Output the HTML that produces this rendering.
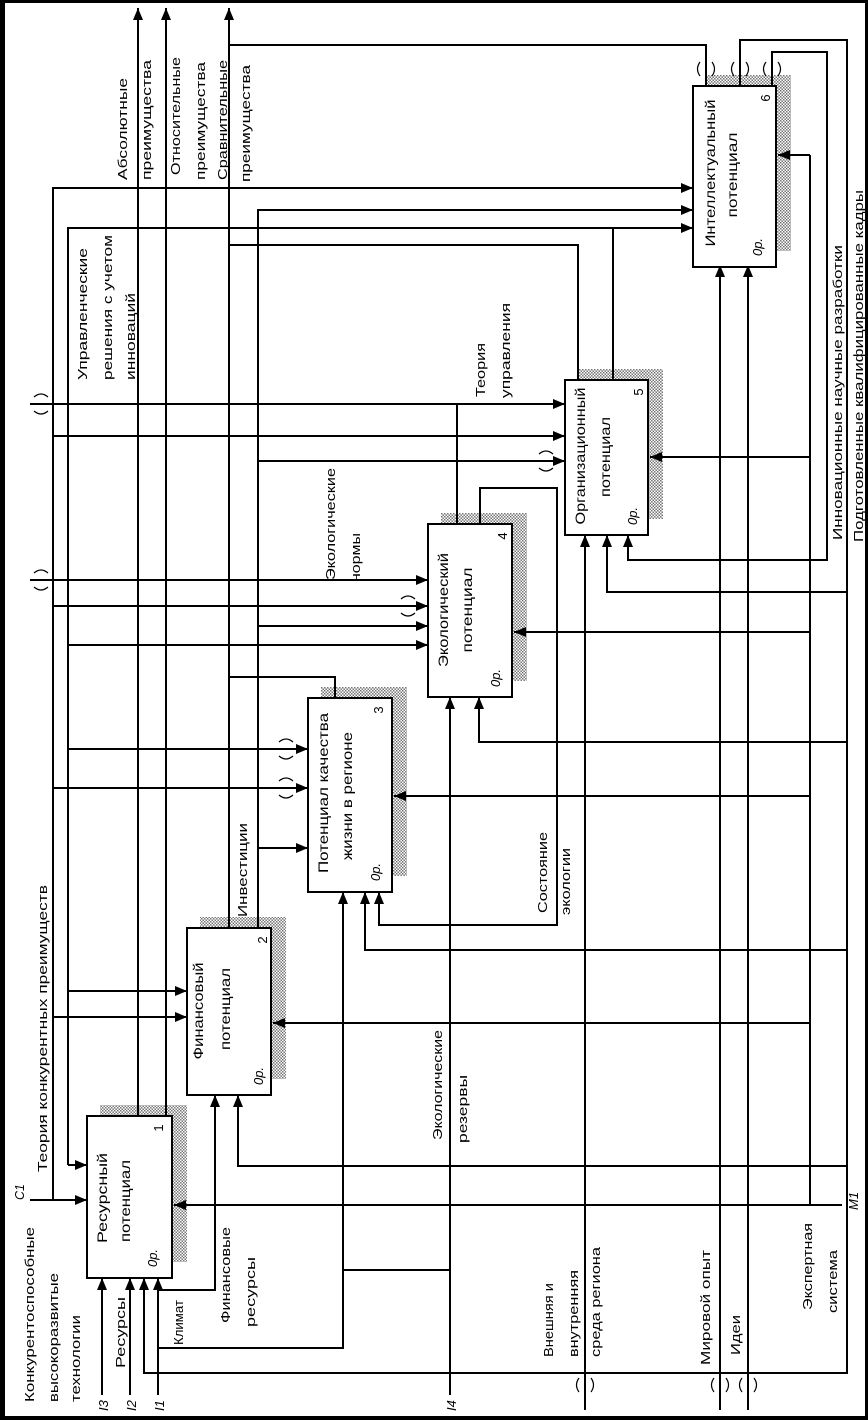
<!DOCTYPE html>
<html><head><meta charset="utf-8"><style>
html,body{margin:0;padding:0;background:#000;}
svg{display:block;}
text{font-family:"Liberation Sans","DejaVu Sans",sans-serif;font-size:13px;fill:#000;}
.bt{font-size:14px;}
</style></head><body>
<svg width="868" height="1420" viewBox="0 0 868 1420" xmlns="http://www.w3.org/2000/svg">
<defs>
<marker id="a" markerUnits="userSpaceOnUse" markerWidth="13" markerHeight="10" refX="12" refY="5" orient="auto"><path d="M0,0 L12,5 L0,10 z" fill="#000"/></marker>
<pattern id="h" width="3" height="3" patternUnits="userSpaceOnUse"><rect width="3" height="3" fill="#fff"/><rect width="1.5" height="1.5" fill="#777"/><rect x="1.5" y="1.5" width="1.5" height="1.5" fill="#777"/></pattern>
</defs>
<rect x="0" y="0" width="868" height="1420" fill="#000"/>
<rect x="5" y="3" width="860" height="1413" fill="#fff"/>

<g fill="url(#h)">
<rect x="100" y="1105" width="87" height="157"/>
<rect x="200" y="917" width="86" height="162"/>
<rect x="321" y="687" width="86" height="189"/>
<rect x="441" y="513" width="86" height="168"/>
<rect x="578" y="369" width="85" height="150"/>
<rect x="706" y="75" width="85" height="176"/>
</g>

<g fill="none" stroke="#000" stroke-width="2">
<path d="M138 1116 V8" marker-end="url(#a)"/>
<path d="M166 1116 V8" marker-end="url(#a)"/>
<path d="M229 928 V8" marker-end="url(#a)"/>
<path d="M258 928 V210 H693" marker-end="url(#a)"/>
<path d="M258 461 H565" marker-end="url(#a)"/>
<path d="M258 626 H428" marker-end="url(#a)"/>
<path d="M258 848 H308" marker-end="url(#a)"/>
<path d="M229 45 H706 V86"/>
<path d="M229 245 H578 V380"/>
<path d="M229 677 H335 V698"/>
<path d="M53 1200 V188 H693" marker-end="url(#a)"/>
<path d="M53 436 H565" marker-end="url(#a)"/>
<path d="M53 606 H428" marker-end="url(#a)"/>
<path d="M53 788 H308" marker-end="url(#a)"/>
<path d="M53 1017 H187" marker-end="url(#a)"/>
<path d="M30 1200 H87" marker-end="url(#a)"/>
<path d="M68 1165 V228 H693" marker-end="url(#a)"/>
<path d="M68 1165 H87" marker-end="url(#a)"/>
<path d="M68 645 H428" marker-end="url(#a)"/>
<path d="M68 749 H308" marker-end="url(#a)"/>
<path d="M68 991 H187" marker-end="url(#a)"/>
<path d="M613 380 V228"/>
<path d="M30 404 H565" marker-end="url(#a)"/>
<path d="M457 404 V524"/>
<path d="M30 580 H428" marker-end="url(#a)"/>
<path d="M810 155 V1205"/>
<path d="M810 155 H778" marker-end="url(#a)"/>
<path d="M810 457 H650" marker-end="url(#a)"/>
<path d="M810 632 H514" marker-end="url(#a)"/>
<path d="M810 796 H394" marker-end="url(#a)"/>
<path d="M810 1023 H273" marker-end="url(#a)"/>
<path d="M842 1205 H174" marker-end="url(#a)"/>
<path d="M772 86 V52 H827 V560 H628 V535" marker-end="url(#a)"/>
<path d="M740 86 V40 H847 V1373 H144 V1278" marker-end="url(#a)"/>
<path d="M847 592 H607 V535" marker-end="url(#a)"/>
<path d="M847 742 H479 V697" marker-end="url(#a)"/>
<path d="M847 950 H365 V892" marker-end="url(#a)"/>
<path d="M847 1166 H238 V1095" marker-end="url(#a)"/>
<path d="M102 1395 V1278" marker-end="url(#a)"/>
<path d="M130 1395 V1278" marker-end="url(#a)"/>
<path d="M158 1395 V1278" marker-end="url(#a)"/>
<path d="M158 1290 H215 V1095" marker-end="url(#a)"/>
<path d="M158 1348 H343 V892" marker-end="url(#a)"/>
<path d="M450 1395 V697" marker-end="url(#a)"/>
<path d="M450 1270 H343"/>
<path d="M585 1410 V535" marker-end="url(#a)"/>
<path d="M720 1410 V265" marker-end="url(#a)"/>
<path d="M748 1410 V265" marker-end="url(#a)"/>
<path d="M480 524 V488 H557 V925 H379 V892" marker-end="url(#a)"/>
</g>

<g fill="none" stroke="#000" stroke-width="1.2">
<path d="M34 397 q7,-6 14,0 M34 411 q7,6 14,0"/>
<path d="M34 573 q7,-6 14,0 M34 587 q7,6 14,0"/>
<path d="M279 742 q7,-6 14,0 M279 756 q7,6 14,0"/>
<path d="M279 781 q7,-6 14,0 M279 795 q7,6 14,0"/>
<path d="M401 599 q7,-6 14,0 M401 613 q7,6 14,0"/>
<path d="M539 454 q7,-6 14,0 M539 468 q7,6 14,0"/>
<path d="M579 1378 q-5,7 0,14 M591 1378 q5,7 0,14"/>
<path d="M714 1378 q-5,7 0,14 M726 1378 q5,7 0,14"/>
<path d="M742 1378 q-5,7 0,14 M754 1378 q5,7 0,14"/>
<path d="M700 62 q-5,7 0,14 M712 62 q5,7 0,14"/>
<path d="M734 62 q-5,7 0,14 M746 62 q5,7 0,14"/>
<path d="M766 62 q-5,7 0,14 M778 62 q5,7 0,14"/>
</g>

<g fill="#fff" stroke="#000" stroke-width="2">
<rect x="87" y="1116" width="85" height="162"/>
<rect x="187" y="928" width="84" height="167"/>
<rect x="308" y="698" width="84" height="194"/>
<rect x="428" y="524" width="84" height="173"/>
<rect x="565" y="380" width="83" height="155"/>
<rect x="693" y="86" width="83" height="181"/>
</g>

<g class="bt" text-anchor="middle">
<text class="bt" transform="translate(107,1198) rotate(-90)" textLength="90" lengthAdjust="spacingAndGlyphs">Ресурсный</text>
<text class="bt" transform="translate(130,1201) rotate(-90)" textLength="82" lengthAdjust="spacingAndGlyphs">потенциал</text>
<text class="bt" transform="translate(203,1011) rotate(-90)" textLength="97" lengthAdjust="spacingAndGlyphs">Финансовый</text>
<text class="bt" transform="translate(230,1009) rotate(-90)" textLength="82" lengthAdjust="spacingAndGlyphs">потенциал</text>
<text class="bt" transform="translate(328,793) rotate(-90)" textLength="160" lengthAdjust="spacingAndGlyphs">Потенциал качества</text>
<text class="bt" transform="translate(352,796) rotate(-90)" textLength="128" lengthAdjust="spacingAndGlyphs">жизни в регионе</text>
<text class="bt" transform="translate(448,610) rotate(-90)" textLength="114" lengthAdjust="spacingAndGlyphs">Экологический</text>
<text class="bt" transform="translate(472,610) rotate(-90)" textLength="85" lengthAdjust="spacingAndGlyphs">потенциал</text>
<text class="bt" transform="translate(585,456) rotate(-90)" textLength="137" lengthAdjust="spacingAndGlyphs">Организационный</text>
<text class="bt" transform="translate(610,457) rotate(-90)" textLength="80" lengthAdjust="spacingAndGlyphs">потенциал</text>
<text class="bt" transform="translate(715,173) rotate(-90)" textLength="147" lengthAdjust="spacingAndGlyphs">Интеллектуальный</text>
<text class="bt" transform="translate(737,175) rotate(-90)" textLength="85" lengthAdjust="spacingAndGlyphs">потенциал</text>
<text transform="translate(163,1128) rotate(-90)">1</text>
<text transform="translate(267,940) rotate(-90)">2</text>
<text transform="translate(383,710) rotate(-90)">3</text>
<text transform="translate(507,536) rotate(-90)">4</text>
<text transform="translate(643,392) rotate(-90)">5</text>
<text transform="translate(770,98) rotate(-90)">6</text>
<text font-style="italic" transform="translate(157,1258) rotate(-90)">0р.</text>
<text font-style="italic" transform="translate(263,1076) rotate(-90)">0р.</text>
<text font-style="italic" transform="translate(380,872) rotate(-90)">0р.</text>
<text font-style="italic" transform="translate(500,678) rotate(-90)">0р.</text>
<text font-style="italic" transform="translate(637,516) rotate(-90)">0р.</text>
<text font-style="italic" transform="translate(762,247) rotate(-90)">0р.</text>
</g>

<g>
<text transform="translate(34,1402) rotate(-90)" textLength="175" lengthAdjust="spacingAndGlyphs">Конкурентоспособные</text>
<text transform="translate(58,1402) rotate(-90)" textLength="129" lengthAdjust="spacingAndGlyphs">высокоразвитые</text>
<text transform="translate(80,1402) rotate(-90)" textLength="87" lengthAdjust="spacingAndGlyphs">технологии</text>
<text font-style="italic" transform="translate(24,1200) rotate(-90)" textLength="16" lengthAdjust="spacingAndGlyphs">C1</text>
<text transform="translate(47,1172) rotate(-90)" textLength="287" lengthAdjust="spacingAndGlyphs">Теория  конкурентных преимуществ</text>
<text transform="translate(125,1368) rotate(-90)" textLength="71" lengthAdjust="spacingAndGlyphs">Ресурсы</text>
<text font-style="italic" transform="translate(108,1411) rotate(-90)">I3</text>
<text font-style="italic" transform="translate(136,1411) rotate(-90)">I2</text>
<text font-style="italic" transform="translate(164,1411) rotate(-90)">I1</text>
<text font-style="italic" transform="translate(456,1411) rotate(-90)">I4</text>
<text font-style="italic" transform="translate(858,1210) rotate(-90)">M1</text>
<text transform="translate(183,1345) rotate(-90)" textLength="45" lengthAdjust="spacingAndGlyphs">Климат</text>
<text transform="translate(230,1323) rotate(-90)" textLength="96" lengthAdjust="spacingAndGlyphs">Финансовые</text>
<text transform="translate(255,1327) rotate(-90)" textLength="70" lengthAdjust="spacingAndGlyphs">ресурсы</text>
<text transform="translate(442,1140) rotate(-90)" textLength="110" lengthAdjust="spacingAndGlyphs">Экологические</text>
<text transform="translate(467,1143) rotate(-90)" textLength="68" lengthAdjust="spacingAndGlyphs">резервы</text>
<text transform="translate(553,1357) rotate(-90)" textLength="74" lengthAdjust="spacingAndGlyphs">Внешняя и</text>
<text transform="translate(578,1357) rotate(-90)" textLength="87" lengthAdjust="spacingAndGlyphs">внутренняя</text>
<text transform="translate(600,1357) rotate(-90)" textLength="110" lengthAdjust="spacingAndGlyphs">среда региона</text>
<text transform="translate(710,1365) rotate(-90)" textLength="115" lengthAdjust="spacingAndGlyphs">Мировой опыт</text>
<text transform="translate(740,1355) rotate(-90)" textLength="40" lengthAdjust="spacingAndGlyphs">Идеи</text>
<text transform="translate(812,1310) rotate(-90)" textLength="87" lengthAdjust="spacingAndGlyphs">Экспертная</text>
<text transform="translate(837,1313) rotate(-90)" textLength="63" lengthAdjust="spacingAndGlyphs">система</text>
<text transform="translate(247,917) rotate(-90)" textLength="94" lengthAdjust="spacingAndGlyphs">Инвестиции</text>
<text transform="translate(547,913) rotate(-90)" textLength="81" lengthAdjust="spacingAndGlyphs">Состояние</text>
<text transform="translate(570,915) rotate(-90)" textLength="67" lengthAdjust="spacingAndGlyphs">экологии</text>
<text transform="translate(335,580) rotate(-90)" textLength="112" lengthAdjust="spacingAndGlyphs">Экологические</text>
<text transform="translate(360,582) rotate(-90)" textLength="49" lengthAdjust="spacingAndGlyphs">нормы</text>
<text transform="translate(485,397) rotate(-90)" textLength="54" lengthAdjust="spacingAndGlyphs">Теория</text>
<text transform="translate(510,398) rotate(-90)" textLength="95" lengthAdjust="spacingAndGlyphs">управления</text>
<text transform="translate(87,380) rotate(-90)" textLength="132" lengthAdjust="spacingAndGlyphs">Управленческие</text>
<text transform="translate(112,380) rotate(-90)" textLength="145" lengthAdjust="spacingAndGlyphs">решения с учетом</text>
<text transform="translate(135,380) rotate(-90)" textLength="87" lengthAdjust="spacingAndGlyphs">инноваций</text>
<text transform="translate(127,180) rotate(-90)" textLength="102" lengthAdjust="spacingAndGlyphs">Абсолютные</text>
<text transform="translate(151,180) rotate(-90)" textLength="120" lengthAdjust="spacingAndGlyphs">преимущества</text>
<text transform="translate(180,175) rotate(-90)" textLength="118" lengthAdjust="spacingAndGlyphs">Относительные</text>
<text transform="translate(205,180) rotate(-90)" textLength="118" lengthAdjust="spacingAndGlyphs">преимущества</text>
<text transform="translate(227,180) rotate(-90)" textLength="120" lengthAdjust="spacingAndGlyphs">Сравнительные</text>
<text transform="translate(250,182) rotate(-90)" textLength="117" lengthAdjust="spacingAndGlyphs">преимущества</text>
<text transform="translate(842,540) rotate(-90)" textLength="295" lengthAdjust="spacingAndGlyphs">Инновационные научные разработки</text>
<text transform="translate(863,542) rotate(-90)" textLength="352" lengthAdjust="spacingAndGlyphs">Подготовленные квалифицированные кадры</text>
</g>
</svg>
</body></html>
